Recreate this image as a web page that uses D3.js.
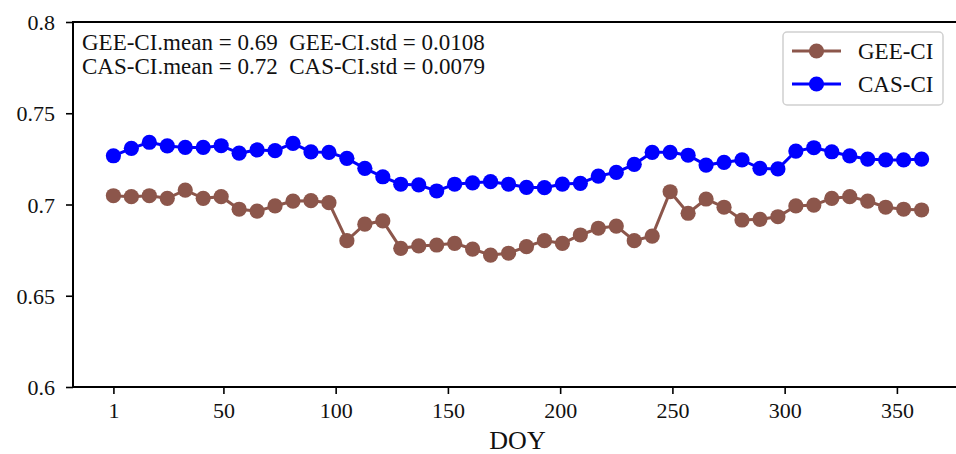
<!DOCTYPE html>
<html>
<head>
<meta charset="utf-8">
<script src="https://cdn.jsdelivr.net/npm/d3@7"></script>
<style>
  html, body { margin: 0; padding: 0; background: #fff; }
  svg, svg text { font-family: 'Liberation Serif', 'DejaVu Serif', serif; }
</style>
</head>
<body>
<div id="chart"></div>
<script>
const doy = d3.range(1, 362, 8);

const geeCI = [
  0.7048, 0.7043, 0.7048, 0.7034, 0.7079, 0.7034, 0.7043, 0.6974, 0.6964, 0.6992,
  0.7019, 0.7021, 0.7010, 0.6802, 0.6892, 0.6910, 0.6760, 0.6773, 0.6778, 0.6787,
  0.6756, 0.6723, 0.6733, 0.6769, 0.6802, 0.6787, 0.6833, 0.6870, 0.6882, 0.6802,
  0.6827, 0.7070, 0.6952, 0.7030, 0.6985, 0.6915, 0.6919, 0.6933, 0.6992, 0.6997,
  0.7034, 0.7043, 0.7019, 0.6985, 0.6974, 0.6970
];

const casCI = [
  0.7267, 0.7308, 0.7341, 0.7321, 0.7313, 0.7313, 0.7322, 0.7281, 0.7299, 0.7295,
  0.7335, 0.7288, 0.7286, 0.7253, 0.7198, 0.7152, 0.7111, 0.7107, 0.7074, 0.7111,
  0.7119, 0.7125, 0.7111, 0.7094, 0.7092, 0.7112, 0.7116, 0.7156, 0.7176, 0.7220,
  0.7286, 0.7286, 0.7270, 0.7216, 0.7231, 0.7244, 0.7198, 0.7195, 0.7293, 0.7311,
  0.7289, 0.7266, 0.7249, 0.7244, 0.7244, 0.7249
];

const xTicks = [1, 50, 100, 150, 200, 250, 300, 350];
const yTicks = [0.6, 0.65, 0.7, 0.75, 0.8];
const statLines = [
  'GEE-CI.mean = 0.69  GEE-CI.std = 0.0108',
  'CAS-CI.mean = 0.72  CAS-CI.std = 0.0079'
];

const series = [
  { name: 'GEE-CI', values: geeCI, color: '#8c564b' },
  { name: 'CAS-CI', values: casCI, color: '#0000ff' }
];

const width = 956;
const height = 454;
const margin = { top: 22, right: -6, bottom: 67, left: 73 };
const serif = 'Liberation Serif, DejaVu Serif, serif';

const svg = d3.select('#chart')
  .append('svg')
  .attr('width', width)
  .attr('height', height)
  .attr('font-family', serif);

// x domain padded like matplotlib's default 5% margins
const x = d3.scaleLinear()
  .domain([-17, 379])
  .range([margin.left, width - margin.right]);

const y = d3.scaleLinear()
  .domain([0.6, 0.8])
  .range([height - margin.bottom, margin.top]);

// axes
const xAxis = svg.append('g')
  .attr('transform', `translate(0,${height - margin.bottom})`)
  .call(d3.axisBottom(x).tickValues(xTicks).tickSize(7).tickPadding(8).tickFormat(d3.format('d')));

const yAxis = svg.append('g')
  .attr('transform', `translate(${margin.left},0)`)
  .call(d3.axisLeft(y).tickValues(yTicks).tickSize(7).tickPadding(11).tickFormat(d => String(d)));

[xAxis, yAxis].forEach(g => {
  g.attr('font-family', serif).attr('font-size', 22);
  g.select('.domain').remove();
  g.selectAll('.tick line').attr('stroke', '#000').attr('stroke-width', 1.6);
  g.selectAll('.tick text').attr('fill', '#111');
});
yAxis.selectAll('.tick text').attr('dy', '0.35em');

// spines
svg.append('rect')
  .attr('x', margin.left)
  .attr('y', margin.top)
  .attr('width', width - margin.right - margin.left)
  .attr('height', height - margin.bottom - margin.top)
  .attr('fill', 'none')
  .attr('stroke', '#000')
  .attr('stroke-width', 2);

// lines + markers
const line = d3.line()
  .x((d, i) => x(doy[i]))
  .y(d => y(d));

series.forEach(s => {
  const g = svg.append('g');
  g.append('path')
    .datum(s.values)
    .attr('fill', 'none')
    .attr('stroke', s.color)
    .attr('stroke-width', 3)
    .attr('d', line);
  g.selectAll('circle')
    .data(s.values)
    .join('circle')
    .attr('cx', (d, i) => x(doy[i]))
    .attr('cy', d => y(d))
    .attr('r', 7.6)
    .attr('fill', s.color);
});

// stats text
svg.append('g')
  .selectAll('text')
  .data(statLines)
  .join('text')
  .attr('x', 82)
  .attr('y', (d, i) => 50 + i * 24)
  .attr('fill', '#111')
  .attr('font-size', 23)
  .style('white-space', 'pre')
  .text(d => d);

// legend
const legend = svg.append('g').attr('transform', 'translate(783,32)');
legend.append('rect')
  .attr('width', 160)
  .attr('height', 73)
  .attr('rx', 4)
  .attr('fill', '#fff')
  .attr('stroke', '#d0d0d0')
  .attr('stroke-width', 1.5);

series.forEach((s, i) => {
  const row = legend.append('g').attr('transform', `translate(0,${19 + i * 33})`);
  row.append('line')
    .attr('x1', 9).attr('x2', 58)
    .attr('stroke', s.color)
    .attr('stroke-width', 3);
  row.append('circle')
    .attr('cx', 33.5)
    .attr('r', 7.6)
    .attr('fill', s.color);
  row.append('text')
    .attr('x', 75)
    .attr('dy', '0.35em')
    .attr('fill', '#111')
    .attr('font-size', 23)
    .text(s.name);
});

// x label
svg.append('text')
  .attr('x', (margin.left + width - margin.right) / 2)
  .attr('y', 449)
  .attr('text-anchor', 'middle')
  .attr('fill', '#111')
  .attr('font-size', 26)
  .text('DOY');
</script>
</body>
</html>
